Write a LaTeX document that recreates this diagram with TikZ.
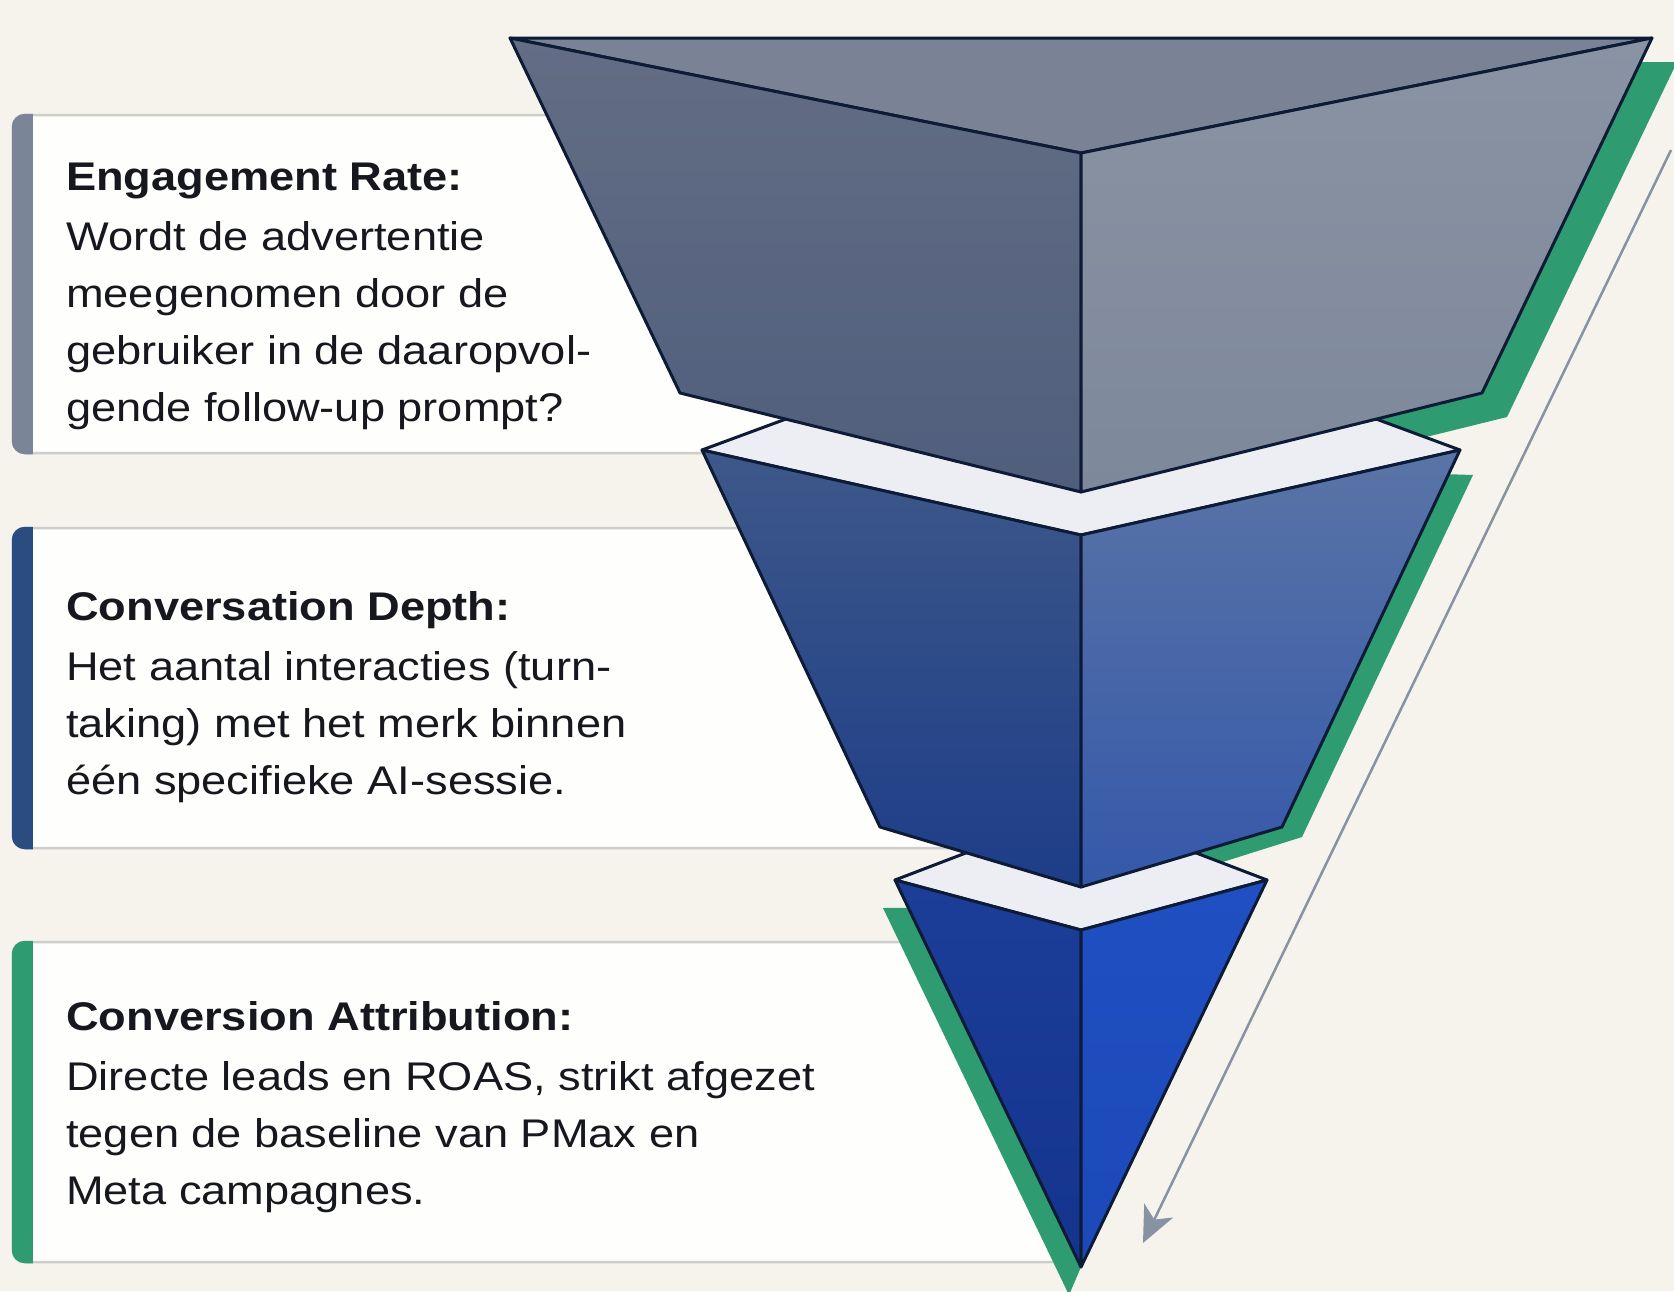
\documentclass[tikz,border=0pt]{standalone}
\usepackage{fontspec}
\setmainfont{Liberation Sans}[FakeStretch=1.13]
\usetikzlibrary{calc,arrows.meta}

\definecolor{paper}{HTML}{F5F3EC}
\definecolor{card}{HTML}{FEFEFD}
\definecolor{cardline}{HTML}{CDCDCB}
\definecolor{ink}{HTML}{16181D}
\definecolor{navy}{HTML}{0D1B36}
\definecolor{mint}{HTML}{2E9B70}
\definecolor{slatebar}{HTML}{7B8598}
\definecolor{bluebar}{HTML}{2B4C80}
\definecolor{arrowgrey}{HTML}{8792A2}
\definecolor{slatetop}{HTML}{7A8395}
\definecolor{lid}{HTML}{ECEEF3}

\tikzset{
  facet/.style={draw=navy, line width=3pt, line join=round},
  card/.style={fill=card, draw=cardline, line width=2.5pt, rounded corners=12pt},
  blurb/.style={anchor=base west, align=left, inner sep=0pt, text=ink,
    font=\fontsize{40}{57}\selectfont},
  flow/.style={draw=arrowgrey, line width=2.5pt,
    -{Stealth[length=36pt, width=32pt, inset=10pt]}},
}

\begin{document}
\begin{tikzpicture}[x=1pt, y=-1pt]
  \useasboundingbox (0,0) rectangle (1674,1291);
  \fill[paper] (0,0) rectangle (1674,1291);

  % cards
  \draw[card] (13,115) rectangle (900,453);
  \begin{scope}
    \clip[rounded corners=13pt] (11.75,113.75) rectangle (900,454.25);
    \fill[slatebar] (0,100) rectangle (33,470);
  \end{scope}
  \draw[card] (13,528) rectangle (1050,848);
  \begin{scope}
    \clip[rounded corners=13pt] (11.75,526.75) rectangle (1050,849.25);
    \fill[bluebar] (0,510) rectangle (33,860);
  \end{scope}
  \draw[card] (13,942) rectangle (1066,1262);
  \begin{scope}
    \clip[rounded corners=13pt] (11.75,940.75) rectangle (1066,1263.25);
    \fill[mint] (0,930) rectangle (33,1280);
  \end{scope}

  % the base of each text block is its last line
  \node[blurb] (engage) at (66,421) {\textbf{Engagement Rate:}\\[3pt]
    Wordt de advertentie\\meegenomen door de\\gebruiker in de daaropvol-\\gende follow-up prompt?};
  \node[blurb] (depth) at (66,794) {\textbf{Conversation Depth:}\\[3pt]
    Het aantal interacties (turn-\\taking) met het merk binnen\\één specifieke AI-sessie.};
  \node[blurb] (convert) at (66,1204) {\textbf{Conversion Attribution:}\\[3pt]
    Directe leads en ROAS, strikt afgezet\\tegen de baseline van PMax en\\Meta campagnes.};

  % funnel corners
  \coordinate (a1) at (510,38);   \coordinate (b1) at (1652,38);
  \coordinate (f1) at (1081,153); \coordinate (l1) at (680,393);
  \coordinate (r1) at (1482,393); \coordinate (p1) at (1081,492);
  \coordinate (l2t) at (702,450); \coordinate (k2) at (1081,310);
  \coordinate (r2t) at (1460,450); \coordinate (f2) at (1081,535);
  \coordinate (l2) at (880,827);  \coordinate (r2) at (1282,827);
  \coordinate (p2) at (1081,887);
  \coordinate (l3t) at (895,880); \coordinate (k3) at (1081,809);
  \coordinate (r3t) at (1267,880); \coordinate (f3) at (1081,930);
  \coordinate (p3) at (1081,1267);

  % green offsets
  \fill[mint] ($(a1)+(25,24)$) -- ($(b1)+(25,24)$) -- ($(r1)+(25,24)$)
    -- ($(p1)+(25,24)$) -- (p1) -- (l1) -- cycle;
  \fill[mint] (l2t) -- ($(r2t)+(13,25)$) -- ($(r2)+(20,10)$)
    -- ($(p2)+(18,14)$) -- (p2) -- (l2) -- cycle;
  \fill[mint] ($(l3t)+(-12,28)$) -- ($(p3)+(-12,28)$) -- (p3)
    -- ($(l3t)!0.072!(p3)$) -- cycle;

  % bottom tier
  \filldraw[facet, fill=lid] (l3t) -- (k3) -- (r3t) -- (f3) -- cycle;
  \filldraw[facet, top color={rgb,255:red,28;green,61;blue,152}, bottom color={rgb,255:red,20;green,52;blue,142}]
    (l3t) -- (f3) -- (p3) -- cycle;
  \filldraw[facet, top color={rgb,255:red,31;green,79;blue,194}, bottom color={rgb,255:red,28;green,73;blue,184}]
    (f3) -- (r3t) -- (p3) -- cycle;

  % middle tier
  \filldraw[facet, fill=lid] (l2t) -- (k2) -- (r2t) -- (f2) -- cycle;
  \filldraw[facet, top color={rgb,255:red,62;green,88;blue,137}, bottom color={rgb,255:red,29;green,61;blue,136}]
    (l2t) -- (f2) -- (p2) -- (l2) -- cycle;
  \filldraw[facet, top color={rgb,255:red,90;green,116;blue,166}, bottom color={rgb,255:red,53;green,88;blue,170}]
    (f2) -- (r2t) -- (r2) -- (p2) -- cycle;

  % top tier
  \filldraw[facet, fill=slatetop] (a1) -- (b1) -- (f1) -- cycle;
  \filldraw[facet, top color={rgb,255:red,99;green,109;blue,132}, bottom color={rgb,255:red,80;green,94;blue,125}]
    (a1) -- (f1) -- (p1) -- (l1) -- cycle;
  \filldraw[facet, top color={rgb,255:red,138;green,147;blue,163}, bottom color={rgb,255:red,125;green,136;blue,155}]
    (f1) -- (b1) -- (r1) -- (p1) -- cycle;

  % direction arrow
  \coordinate (flowtop) at (1671,150);
  \coordinate (flowend) at (1143,1243);
  \draw[flow] (flowtop) -- (flowend);
\end{tikzpicture}
\end{document}
